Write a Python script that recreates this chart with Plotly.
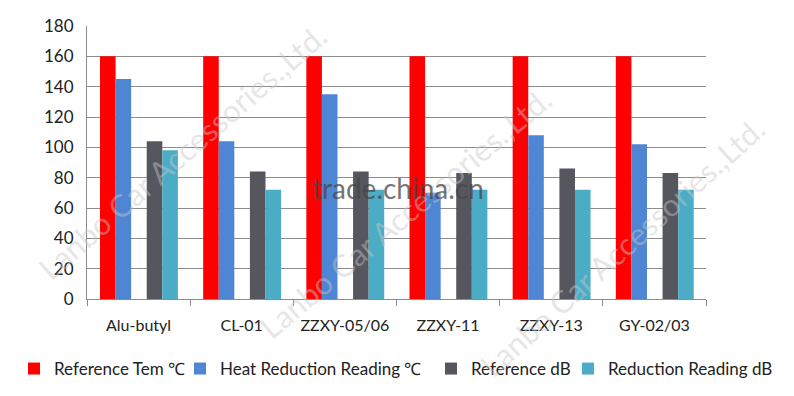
import plotly.graph_objects as go

categories = ["Alu-butyl", "CL-01", "ZZXY-05/06", "ZZXY-11", "ZZXY-13", "GY-02/03"]
ref_tem = [160, 160, 160, 160, 160, 160]
heat_red = [145, 104, 135, 70, 108, 102]
ref_db = [104, 84, 84, 83, 86, 83]
red_db = [98, 72, 72, 72, 72, 72]
series_names = ["Reference Tem ℃", "Heat Reduction Reading ℃", "Reference dB", "Reduction Reading dB"]
y_ticks = [0, 20, 40, 60, 80, 100, 120, 140, 160, 180]

colors = ["#FF0000", "#4F86D4", "#56565E", "#4BACC6"]
offsets = [-0.374, -0.223, 0.079, 0.230]
W = 0.151
legend_ids = ["legend", "legend2", "legend3", "legend4"]
legend_x = [14, 180, 431, 568]  # left edge of each legend box, px

fig = go.Figure()
for name, vals, c, off, lg in zip(series_names, [ref_tem, heat_red, ref_db, red_db], colors, offsets, legend_ids):
    fig.add_trace(go.Bar(x=categories, y=vals, name=name, marker_color=c,
                         marker_line_width=0, offset=off, width=W, legend=lg))

PL, PR, PT, PB = 87, 706, 26, 299
def px(x):
    return (x - PL) / (PR - PL)
def py(y):
    return (PB - y) / (PB - PT)

wm = "Lanbo Car Accessories.,Ltd."
annotations = []
for cx, cy, ang in [(182, 152, -41), (405, 213, -40), (622, 247, -42)]:
    annotations.append(dict(text=wm, x=px(cx), y=py(cy), xref="paper", yref="paper",
                            xanchor="center", yanchor="middle",
                            showarrow=False, textangle=ang,
                            font=dict(family="Lato, Arial", size=31, color="rgba(200,200,200,0.45)")))
annotations.append(dict(text="trade.china.cn", x=px(398), y=py(188), xref="paper", yref="paper",
                        xanchor="center", yanchor="middle",
                        showarrow=False,
                        font=dict(family="Lato, Arial", size=28, color="rgba(70,70,70,0.75)")))

legend_style = dict(orientation="h", xref="container", yref="container",
                    xanchor="left", y=1 - 369 / 396, yanchor="middle",
                    font=dict(family="Lato, Arial", size=17, color="#222"),
                    bgcolor="rgba(0,0,0,0)", borderwidth=0)
legends = {lg: dict(legend_style, x=lx / 794) for lg, lx in zip(legend_ids, legend_x)}

fig.update_layout(
    width=794, height=396,
    margin=dict(l=PL, r=794 - PR, t=PT, b=396 - PB, autoexpand=False),
    paper_bgcolor="white", plot_bgcolor="white",
    barmode="group",
    showlegend=True,
    font=dict(family="Lato, Arial", size=16, color="#222"),
    annotations=annotations,
    **legends,
)
fig.update_yaxes(range=[0, 180], tickvals=y_ticks, showgrid=True, gridcolor="#8c8c8c",
                 gridwidth=1, showline=True, linecolor="#8c8c8c", zeroline=False,
                 ticks="", tickfont=dict(size=17), ticklabelstandoff=9, automargin=False)
fig.update_xaxes(showline=True, linecolor="#8c8c8c", ticks="outside", tickson="boundaries",
                 ticklen=6, tickcolor="#8c8c8c", tickfont=dict(size=16),
                 ticklabelstandoff=12, automargin=False)

fig.write_html("out.html")
